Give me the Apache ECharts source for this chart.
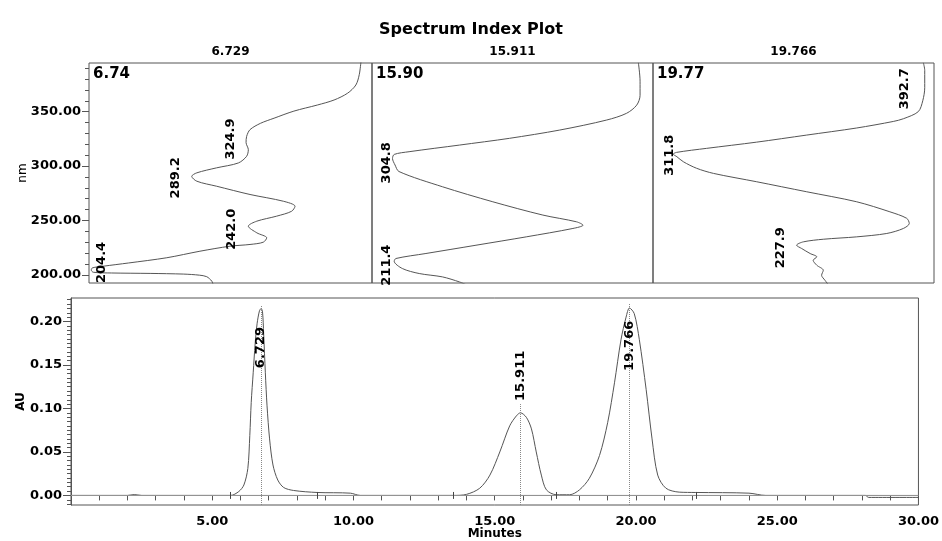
<!DOCTYPE html>
<html><head><meta charset="utf-8">
<script src="https://cdn.jsdelivr.net/npm/echarts@6.0.0/dist/echarts.min.js"></script>
<style>html,body{margin:0;padding:0;background:#fff}#c{width:942px;height:541px}</style>
</head><body><div id="c"></div>
<script>
// ---------- texts / ticks ----------
const chartTitle = 'Spectrum Index Plot';
const panelRetention = ['6.729', '15.911', '19.766'];
const panelApex = ['6.74', '15.90', '19.77'];
const nmTickLabels = [200, 250, 300, 350];
const auTickLabels = [0, 0.05, 0.10, 0.15, 0.20];
const minuteTickLabels = [5, 10, 15, 20, 25, 30];

// ---------- spectra (relative absorbance 0-100, wavelength nm) ----------
const spec1Abs = [96.1,95.5,94.3,91.4,86.6,80.7,72.4,65.4,60.6,56.9,55.7,55.5,56.3,55.7,52.8,45.1,38.1,36.3,38.1,45.1,56.9,68.7,72.8,71.6,66.3,59.3,56.3,59.3,62.8,61.6,56.9,49.8,39.2,27.5,14,5,1.2,0.8,1.5,8,21.6,33.3,39,41.6,43.4,43.8];
const spec1Nm  = [396,384,374.5,367,360.7,356.1,350.5,344,339.3,333.5,327.3,321.6,315.1,309,302.9,298.4,293.8,290.6,286.1,281.5,273.9,267.7,263.1,258.5,254,249.4,244.8,238.7,234.1,230.1,228,226.4,221.8,215.8,211,208,206.5,204.5,202.5,201.8,201.4,200.8,199.8,198.4,194.3,191.5];

const spec2Abs = [94.8,95.4,95.4,94.2,90.6,83.5,66.8,48.9,31.1,13.2,7.9,7.3,8.2,9.6,25.1,43,60.8,72.8,75.1,71.5,54.9,37,19.2,8.5,7.9,10.8,16.8,25.1,31.1,33.5];
const spec2Nm  = [395,378,365,356,348.5,342.3,333.1,325.5,319.3,313.2,310.7,307,301,295,281,267.2,255,248.8,245.7,242.7,235,227.3,219.7,215.1,212.6,205.9,201.3,198.2,193.6,191];

const spec3Abs = [96.2,96.7,96.7,96.0,94.4,89.1,85.5,72.5,54.7,36.9,19.1,8.4,7.2,8.5,10.8,15.5,21.5,36.9,54.7,72.5,84.3,90.3,91.2,89.1,83.2,72.5,60.6,53.5,51.1,52.9,55.9,58.3,57,58.3,60.6,60,61.2,62.4];
const spec3Nm  = [395,388,372,360,350,343.5,341,335,328.5,322,316.3,312.6,311,308.6,304,298,293.3,285.6,276.4,267.2,258,252,247.3,242.7,238.1,235,232.8,230.4,227.3,224.3,219.7,216.6,213.5,208.9,204.3,199.7,195.1,191];

// spectrum maxima annotations (text, anchor absorbance, anchor nm)
const spec1PeakText = ['289.2', '324.9', '242.0', '204.4'];
const spec1PeakAbs  = [30.7, 50.2, 50.5, 4.6];
const spec1PeakNm   = [289.2, 324.9, 242.0, 211.5];
const spec2PeakText = ['304.8', '211.4'];
const spec2PeakAbs  = [5.2, 5.2];
const spec2PeakNm   = [303, 209];
const spec3PeakText = ['311.8', '227.9', '392.7'];
const spec3PeakAbs  = [6.0, 45.4, 89.7];
const spec3PeakNm   = [310, 225, 371];

// ---------- chromatogram ----------
const chromTime = [0,2.0,2.24,2.5,5.65,5.94,6.12,6.26,6.33,6.38,6.45,6.52,6.59,6.67,6.73,6.78,6.82,6.88,6.94,7.03,7.15,7.32,7.53,7.88,8.71,9.89,10.24,13.53,14.0,14.47,14.83,15.18,15.53,15.77,15.91,16.12,16.30,16.47,16.65,16.83,17.18,17.65,18.0,18.35,18.71,19.0,19.24,19.47,19.65,19.77,19.94,20.12,20.36,20.57,20.77,21.06,21.53,22.12,24.0,24.59,28.12,28.24,30];
const chromAU   = [0,0,0.001,0,0,0.0045,0.012,0.031,0.069,0.107,0.141,0.175,0.198,0.212,0.215,0.211,0.186,0.141,0.103,0.065,0.035,0.0177,0.0091,0.0057,0.0034,0.0026,0,0,0.0012,0.0083,0.0234,0.05,0.08,0.0916,0.095,0.0898,0.0765,0.05,0.0234,0.0064,0.0008,0.0008,0.0064,0.0197,0.046,0.084,0.1295,0.179,0.205,0.2155,0.209,0.179,0.122,0.065,0.0234,0.0083,0.0038,0.0034,0.0026,0,0,-0.0023,-0.0023];
const peakRT       = [6.729, 15.911, 19.766];
const peakRTText   = ['6.729', '15.911', '19.766'];
const peakMarkTop  = [0.2185, 0.105, 0.221];
const peakLabelAU  = [0.170, 0.1375, 0.172];
const integrationMarks = [5.65, 8.71, 13.53, 17.18, 22.12];

// ---------- layout / style ----------
const FONT = '"DejaVu Sans", "Liberation Sans", sans-serif';
const INK = '#000';
const LINE = '#555';
const BORDER = '#555';
const topGrids = [
  {left: 89, top: 63, width: 283, height: 220},
  {left: 372, top: 63, width: 281, height: 220},
  {left: 653, top: 63, width: 281, height: 220}
];
const bottomGrid = {left: 71, top: 298, width: 851, height: 209};
const NM_MIN = 192.6, NM_MAX = 394.7;
const AU_MIN = -0.011, AU_MAX = 0.227;

const zip = (a, b) => a.map((v, i) => [v, b[i]]);
const nmMinor = [];
for (let v = 200; v <= 390; v += 10) if (v % 50) nmMinor.push(v);
const auMinor = [];
for (let k = -2; k <= 45; k++) if (k % 10) auMinor.push(+(k * 0.005).toFixed(3));
const minuteTicks = [];
for (let m = 1; m <= 30; m++) minuteTicks.push(m);

const grids = topGrids.map(g => Object.assign({show: true, borderColor: BORDER, borderWidth: 1, backgroundColor: 'transparent'}, g));
grids.push(Object.assign({show: true, borderColor: BORDER, borderWidth: 1, backgroundColor: 'transparent'}, bottomGrid));

const xAxes = [0, 1, 2].map(i => ({type: 'value', gridIndex: i, min: 0, max: 100, show: false}));
xAxes.push({
  type: 'value', gridIndex: 3, min: 0, max: 30, position: 'bottom',
  axisLine: {show: true, lineStyle: {color: BORDER}},
  axisTick: {show: true, length: 5, customValues: minuteTicks, lineStyle: {color: BORDER}},
  axisLabel: {customValues: minuteTickLabels, formatter: v => v.toFixed(2), margin: 10,
    fontFamily: FONT, fontWeight: 'bold', fontSize: 13, color: INK},
  splitLine: {show: false},
  name: 'Minutes', nameLocation: 'middle', nameGap: 23, nameMoveOverlap: false,
  nameTextStyle: {fontFamily: FONT, fontWeight: 'bold', fontSize: 12, color: INK}
});

const yAxes = [];
// panel 1 major
yAxes.push({
  type: 'value', gridIndex: 0, min: NM_MIN, max: NM_MAX, position: 'left',
  axisLine: {show: false},
  axisTick: {show: true, length: 7, customValues: nmTickLabels, lineStyle: {color: BORDER}},
  axisLabel: {customValues: nmTickLabels, formatter: v => v.toFixed(2), margin: 8,
    fontFamily: FONT, fontWeight: 'bold', fontSize: 13, color: INK},
  splitLine: {show: false},
  name: 'nm', nameLocation: 'middle', nameGap: 60, nameRotate: 90, nameMoveOverlap: false,
  nameTextStyle: {fontFamily: FONT, fontSize: 12, color: INK}
});
yAxes.push({type: 'value', gridIndex: 1, min: NM_MIN, max: NM_MAX, show: false});
yAxes.push({type: 'value', gridIndex: 2, min: NM_MIN, max: NM_MAX, show: false});
// bottom major
yAxes.push({
  type: 'value', gridIndex: 3, min: AU_MIN, max: AU_MAX, position: 'left',
  axisLine: {show: true, lineStyle: {color: BORDER}},
  axisTick: {show: true, length: 8, customValues: auTickLabels, lineStyle: {color: BORDER}},
  axisLabel: {customValues: auTickLabels, formatter: v => v.toFixed(2), margin: 9,
    fontFamily: FONT, fontWeight: 'bold', fontSize: 13, color: INK},
  splitLine: {show: false},
  name: 'AU', nameLocation: 'middle', nameGap: 44, nameRotate: 90, nameMoveOverlap: false,
  nameTextStyle: {fontFamily: FONT, fontWeight: 'bold', fontSize: 12, color: INK}
});
// bottom minor ticks
yAxes.push({
  type: 'value', gridIndex: 3, min: AU_MIN, max: AU_MAX, position: 'left', offset: 0,
  axisLine: {show: false},
  axisTick: {show: true, length: 4, customValues: auMinor, lineStyle: {color: BORDER}},
  axisLabel: {show: false}, splitLine: {show: false}
});
// panel 1 minor ticks
yAxes.push({
  type: 'value', gridIndex: 0, min: NM_MIN, max: NM_MAX, position: 'left', offset: 0,
  axisLine: {show: false},
  axisTick: {show: true, length: 4, customValues: nmMinor, lineStyle: {color: BORDER}},
  axisLabel: {show: false}, splitLine: {show: false}
});

const lineStyle = {color: LINE, width: 1};
const series = [];
[[spec1Abs, spec1Nm], [spec2Abs, spec2Nm], [spec3Abs, spec3Nm]].forEach((s, i) => {
  series.push({
    type: 'line', xAxisIndex: i, yAxisIndex: i, data: zip(s[0], s[1]),
    showSymbol: false, smooth: 0.3, lineStyle: lineStyle, silent: true, animation: false
  });
});
[[spec1PeakText, spec1PeakAbs, spec1PeakNm], [spec2PeakText, spec2PeakAbs, spec2PeakNm], [spec3PeakText, spec3PeakAbs, spec3PeakNm]].forEach((p, i) => {
  series.push({
    type: 'scatter', xAxisIndex: i, yAxisIndex: i, symbolSize: 1,
    itemStyle: {color: 'rgba(0,0,0,0)'}, silent: true, animation: false, z: 5,
    data: p[0].map((t, k) => ({name: t, value: [p[1][k], p[2][k]]})),
    label: {show: true, formatter: '{b}', position: 'inside', rotate: 90,
      fontFamily: FONT, fontWeight: 'bold', fontSize: 13, color: INK, opacity: 1, textBorderWidth: 0}
  });
});

// chromatogram
const markData = [];
peakRT.forEach((t, k) => {
  markData.push([{coord: [t, AU_MIN], lineStyle: {type: 'dotted', color: '#888'}}, {coord: [t, peakMarkTop[k]]}]);
});
integrationMarks.forEach(t => {
  markData.push([{coord: [t, -0.004], lineStyle: {type: 'solid', color: '#444'}}, {coord: [t, 0.004]}]);
});
series.push({
  type: 'line', xAxisIndex: 3, yAxisIndex: 3, data: zip(chromTime, chromAU),
  showSymbol: false, smooth: 0.3, lineStyle: lineStyle, silent: true, animation: false,
  markLine: {silent: true, symbol: 'none', label: {show: false}, animation: false,
    lineStyle: {width: 1}, data: markData}
});
series.push({
  type: 'line', xAxisIndex: 3, yAxisIndex: 3, data: [[0, 0], [30, 0]],
  showSymbol: false, lineStyle: {color: '#999', width: 1}, silent: true, animation: false
});
series.push({
  type: 'scatter', xAxisIndex: 3, yAxisIndex: 3, symbolSize: 1,
  itemStyle: {color: 'rgba(0,0,0,0)'}, silent: true, animation: false, z: 5,
  data: peakRTText.map((t, k) => ({name: t, value: [peakRT[k], peakLabelAU[k]]})),
  label: {show: true, formatter: '{b}', position: 'inside', rotate: 90,
    fontFamily: FONT, fontWeight: 'bold', fontSize: 13, color: INK, opacity: 1, textBorderWidth: 0}
});

// texts
const graphics = [{
  type: 'text', x: 471, y: 30,
  style: {text: chartTitle, align: 'center', verticalAlign: 'middle',
    font: 'bold 16px ' + FONT, fill: INK}
}];
topGrids.forEach((g, i) => {
  graphics.push({type: 'text', x: g.left + g.width / 2, y: 52,
    style: {text: panelRetention[i], align: 'center', verticalAlign: 'middle', font: 'bold 12px ' + FONT, fill: INK}});
  graphics.push({type: 'text', x: g.left + 4, y: 67,
    style: {text: panelApex[i], align: 'left', verticalAlign: 'top', font: 'bold 15px ' + FONT, fill: INK}});
});

const chart = echarts.init(document.getElementById('c'), null, {renderer: 'canvas'});
chart.setOption({
  animation: false,
  backgroundColor: '#fff',
  grid: grids,
  xAxis: xAxes,
  yAxis: yAxes,
  series: series,
  graphic: graphics
});
</script>
</body></html>
